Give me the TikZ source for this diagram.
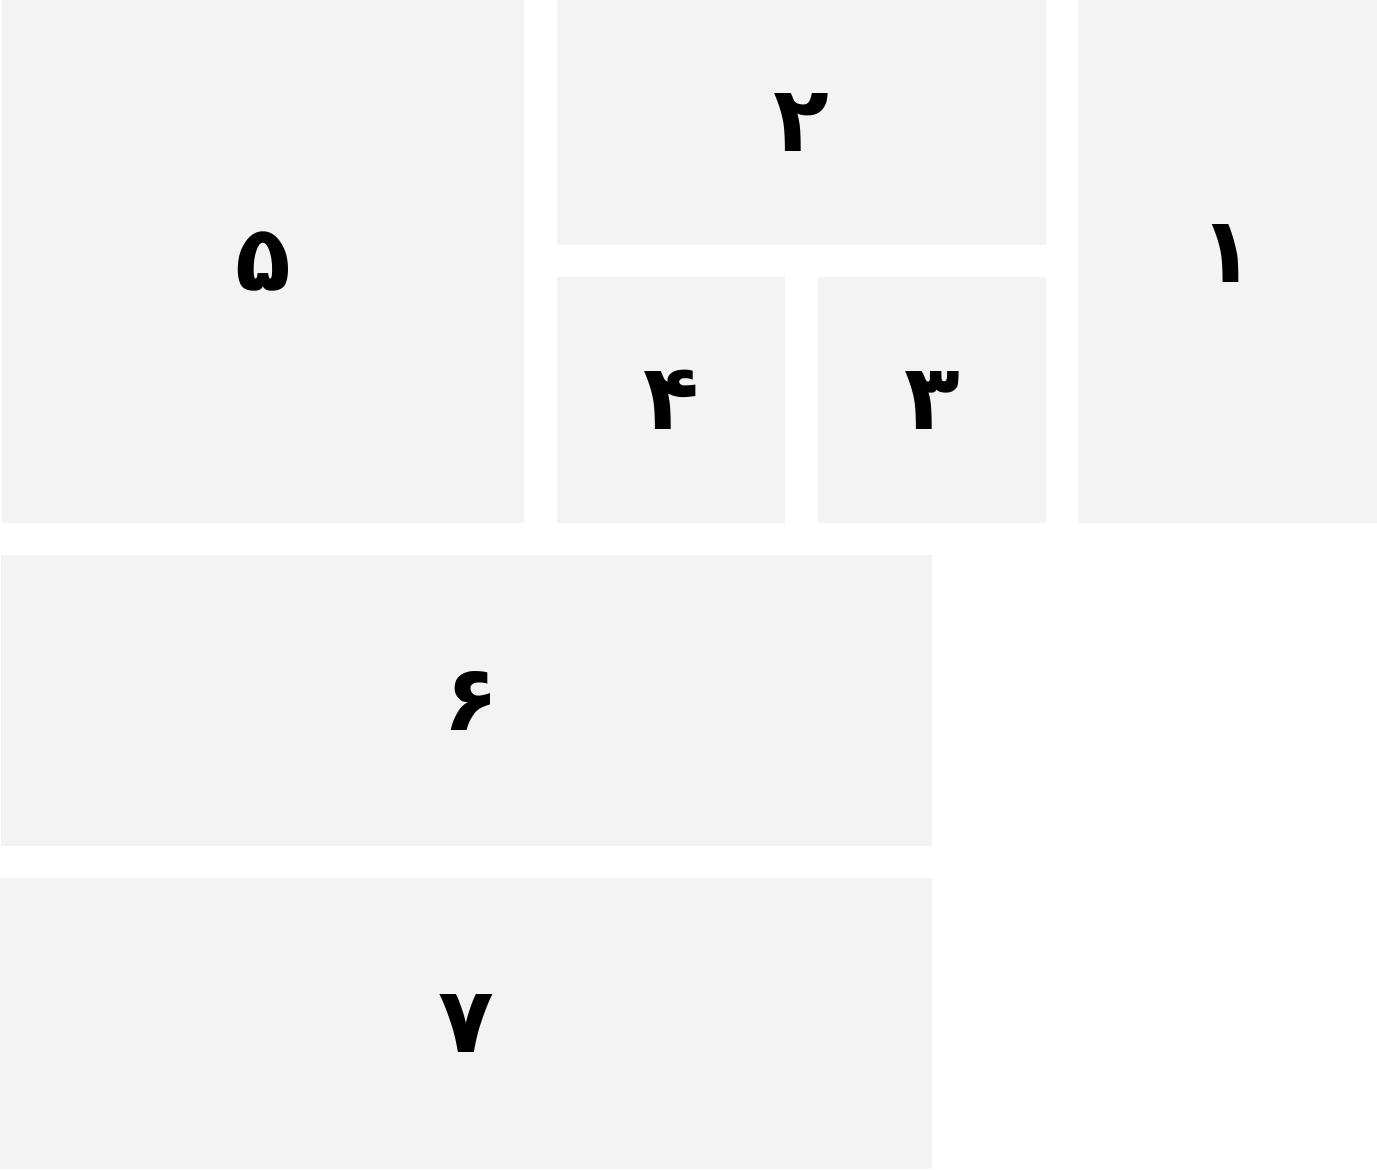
\documentclass[tikz,border=0pt]{standalone}
\usepackage{fontspec}
\newfontfamily\arabicfont[Script=Arabic]{DejaVu Sans}
\TeXXeTstate=1
\usepackage{tikz}
\definecolor{panelgray}{HTML}{F3F3F3}

\begin{document}
\begin{tikzpicture}[
    panel/.style={rectangle, fill=panelgray, inner sep=0pt, text centered, font=\arabicfont\bfseries\fontsize{26}{30}\selectfont}
]
    \useasboundingbox (0,0) rectangle (13.77,-11.69);
    \node[panel, minimum width=5.22cm, minimum height=5.23cm] (five) at (2.63,-2.615) {\beginR ۵\endR};
    \node[panel, minimum width=4.89cm, minimum height=2.45cm] (two) at (8.015,-1.225) {\beginR ۲\endR};
    \node[panel, minimum width=2.28cm, minimum height=2.46cm] (four) at (6.71,-4.00) {\beginR ۴\endR};
    \node[panel, minimum width=2.28cm, minimum height=2.46cm] (three) at (9.32,-4.00) {\beginR ۳\endR};
    \node[panel, minimum width=2.99cm, minimum height=5.23cm] (one) at (12.275,-2.615) {\raisebox{0.16cm}{\beginR ۱\endR}};
    \node[panel, minimum width=9.31cm, minimum height=2.91cm] (six) at (4.665,-7.005) {\hspace{0.1cm}\beginR ۶\endR};
    \node[panel, minimum width=9.32cm, minimum height=2.91cm] (seven) at (4.66,-10.235) {\beginR ۷\endR};
\end{tikzpicture}
\end{document}
